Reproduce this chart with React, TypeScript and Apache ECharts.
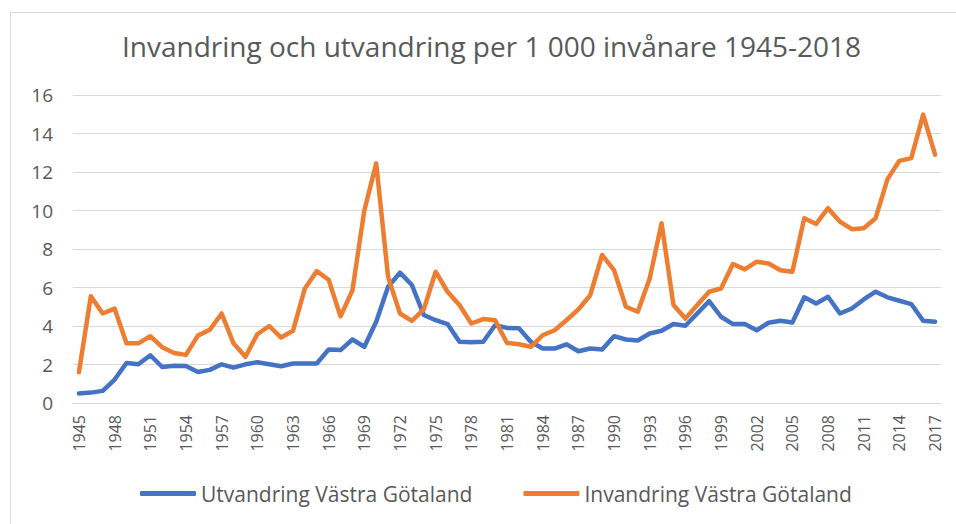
import React, { useEffect, useRef } from "react";
import * as echarts from "echarts";

const years: string[] = [
  "1945","1946","1947","1948","1949","1950","1951","1952","1953","1954",
  "1955","1956","1957","1958","1959","1960","1961","1962","1963","1964",
  "1965","1966","1967","1968","1969","1970","1971","1972","1973","1974",
  "1975","1976","1977","1978","1979","1980","1981","1982","1983","1984",
  "1985","1986","1987","1988","1989","1990","1991","1992","1993","1994",
  "1995","1996","1997","1998","1999","2000","2001","2002","2003","2004",
  "2005","2006","2007","2008","2009","2010","2011","2012","2013","2014",
  "2015","2016","2017",
];

const utvandring: number[] = [
  0.49,0.54,0.63,1.22,2.08,2.01,2.48,1.87,1.94,1.92,
  1.61,1.72,2.01,1.84,2.01,2.12,2.01,1.91,2.05,2.05,
  2.05,2.78,2.75,3.3,2.92,4.22,6.04,6.77,6.13,4.57,
  4.3,4.1,3.18,3.15,3.18,4.04,3.9,3.88,3.18,2.83,
  2.83,3.05,2.69,2.83,2.78,3.47,3.3,3.25,3.61,3.75,
  4.1,4.01,4.65,5.29,4.48,4.1,4.1,3.78,4.17,4.27,
  4.18,5.49,5.17,5.52,4.65,4.91,5.38,5.78,5.49,5.31,
  5.14,4.27,4.22,
];

const invandring: number[] = [
  1.6,5.55,4.65,4.9,3.1,3.1,3.47,2.9,2.6,2.5,
  3.5,3.8,4.65,3.1,2.4,3.57,4.0,3.4,3.75,5.95,
  6.85,6.4,4.5,5.85,10.0,12.45,6.55,4.65,4.27,4.86,
  6.82,5.78,5.09,4.13,4.36,4.3,3.12,3.05,2.92,3.52,
  3.78,4.3,4.86,5.6,7.69,6.9,5.0,4.74,6.47,9.34,
  5.09,4.39,5.09,5.78,5.95,7.22,6.94,7.34,7.25,6.9,
  6.82,9.6,9.3,10.12,9.42,9.03,9.08,9.6,11.63,12.58,
  12.72,14.98,12.9,
];

const seriesNames = ["Utvandring Västra Götaland", "Invandring Västra Götaland"];
const titleText = "Invandring och utvandring per 1 000 invånare 1945-2018";

const FONT = "'Open Sans', sans-serif";
const TEXT = "#595959";

export default function App() {
  const ref = useRef<HTMLDivElement>(null);
  useEffect(() => {
    if (!ref.current) return;
    const chart = echarts.init(ref.current, undefined, { renderer: "svg" });
    chart.setOption({
      animation: false,
      backgroundColor: "#ffffff",
      textStyle: { fontFamily: FONT },
      title: {
        text: titleText,
        left: 117,
        top: 27,
        textStyle: { fontSize: 28, fontWeight: "normal", color: TEXT, fontFamily: FONT },
      },
      graphic: [
        {
          type: "rect",
          shape: { x: 10.5, y: 12.5, width: 960, height: 530 },
          style: { fill: "none", stroke: "#d9d9d9", lineWidth: 1 },
          silent: true,
        },
      ],
      legend: {
        left: 135,
        top: 478,
        itemWidth: 56,
        itemHeight: 5,
        itemGap: 51,
        icon: "roundRect",
        textStyle: { fontSize: 21, color: TEXT, fontFamily: FONT },
        data: seriesNames,
      },
      grid: { left: 73, right: 15, top: 95, bottom: 121, containLabel: false },
      xAxis: {
        type: "category",
        boundaryGap: true,
        data: years,
        axisLine: { lineStyle: { color: "#d9d9d9", width: 1 } },
        axisTick: { show: false },
        axisLabel: {
          interval: 2,
          rotate: 90,
          fontSize: 16,
          color: TEXT,
          margin: 12,
          fontFamily: FONT,
        },
      },
      yAxis: {
        type: "value",
        min: 0,
        max: 16,
        interval: 2,
        axisLine: { show: false },
        axisTick: { show: false },
        axisLabel: { fontSize: 19, color: TEXT, margin: 20, fontFamily: FONT },
        splitLine: { lineStyle: { color: "#d9d9d9", width: 1.2 } },
      },
      series: [
        {
          name: seriesNames[0],
          type: "line",
          data: utvandring,
          symbol: "none",
          color: "#4472C4",
          lineStyle: { width: 4.5, color: "#4472C4", cap: "round", join: "round" },
        },
        {
          name: seriesNames[1],
          type: "line",
          data: invandring,
          symbol: "none",
          color: "#ED7D31",
          lineStyle: { width: 4.5, color: "#ED7D31", cap: "round", join: "round" },
        },
      ],
    });
    return () => chart.dispose();
  }, []);
  return (
    <div
      ref={ref}
      style={{ position: "fixed", left: 0, top: 0, width: 956, height: 524 }}
    />
  );
}
